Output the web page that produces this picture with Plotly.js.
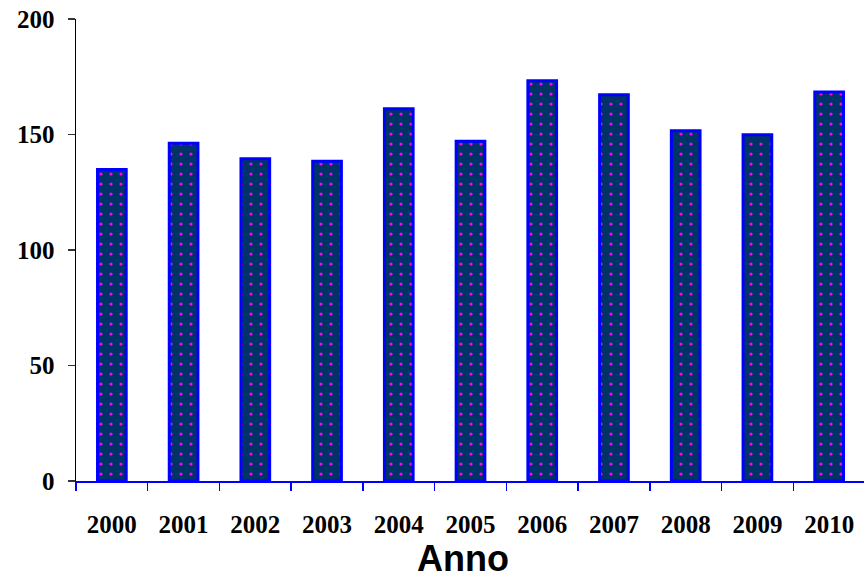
<!DOCTYPE html>
<html>
<head>
<meta charset="utf-8">
<script src="https://cdn.plot.ly/plotly-3.0.1.min.js"></script>
<style>html,body{margin:0;padding:0;background:#fff;}#chart{width:864px;height:586px;}</style>
</head>
<body>
<div id="chart"></div>
<script>
const years = ['2000','2001','2002','2003','2004','2005','2006','2007','2008','2009','2010'];
const values = [134.9, 146.2, 139.5, 138.4, 161.2, 147.1, 173.3, 167.2, 151.6, 149.9, 168.4];
const xTitle = 'Anno';

const trace = {
  type: 'bar',
  x: years,
  y: values,
  marker: {
    color: '#003366',
    line: {color: '#0000FF', width: 3},
    pattern: {shape: '.', fillmode: 'replace', bgcolor: '#003366', fgcolor: '#FF00FF', size: 10, solidity: 0.08}
  },
  hoverinfo: 'none'
};

const tickFont = {family: 'Liberation Serif', size: 25, color: '#000', weight: 'bold'};

const layout = {
  width: 864, height: 586,
  margin: {l: 76, r: 0, t: 19, b: 105},
  paper_bgcolor: '#fff', plot_bgcolor: '#fff',
  showlegend: false,
  bargap: 0.6,
  xaxis: {
    type: 'category',
    range: [-0.5, 10.486],
    tickson: 'boundaries',
    ticks: 'outside', ticklen: 8, tickcolor: '#0000FF', tickwidth: 1.5,
    showline: true, linecolor: '#0000FF', linewidth: 1.5,
    showgrid: false, zeroline: false,
    tickfont: tickFont,
    ticklabelstandoff: 20
  },
  yaxis: {
    range: [0, 200], dtick: 50,
    ticks: 'outside', ticklen: 7, tickcolor: '#333', tickwidth: 1.5,
    showline: true, linecolor: '#000', linewidth: 1.5,
    showgrid: false, zeroline: false,
    tickfont: tickFont,
    ticklabelstandoff: 8
  },
  annotations: [{
    text: xTitle, xref: 'paper', yref: 'paper', x: 0.491, y: 0, yshift: -55,
    xanchor: 'center', yanchor: 'top', showarrow: false,
    font: {family: 'Liberation Sans', size: 36, color: '#000', weight: 'bold'}
  }]
};

Plotly.newPlot('chart', [trace], layout, {displayModeBar: false, staticPlot: true});
</script>
</body>
</html>
